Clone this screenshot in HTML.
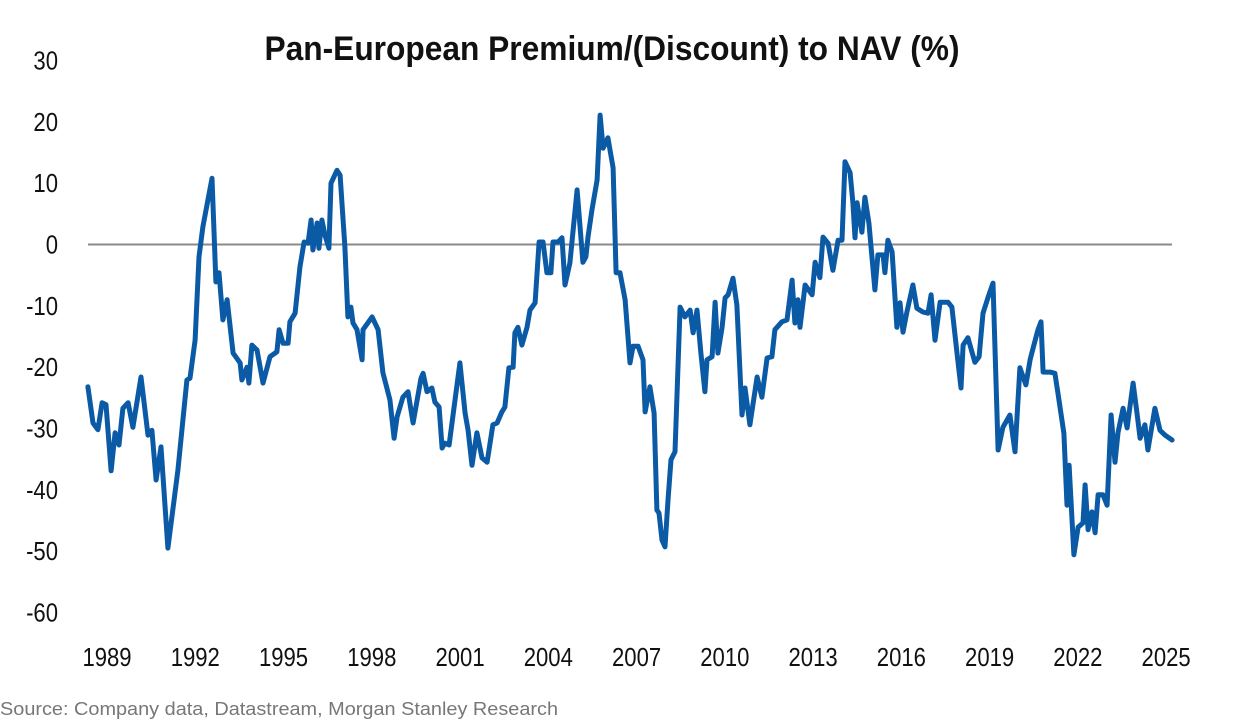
<!DOCTYPE html>
<html><head><meta charset="utf-8"><style>
html,body{margin:0;padding:0;background:#fff;}
svg{display:block;}
text{font-family:"Liberation Sans Narrow","Liberation Sans",sans-serif;}
</style></head><body>
<svg id="chart" width="1233" height="728" viewBox="0 0 1233 728" xmlns="http://www.w3.org/2000/svg">
<text x="612" y="60" text-anchor="middle" font-size="34" font-weight="bold" fill="#111" textLength="695" lengthAdjust="spacingAndGlyphs">Pan-European Premium/(Discount) to NAV (%)</text>
<g id="yaxis"></g>
<g id="xaxis"></g>
<line id="zero" stroke="#8a8a8a" stroke-width="2"/>
<path id="series" fill="none" stroke="#0b5aa6" stroke-width="5" stroke-linejoin="round" stroke-linecap="round"/>
<text x="0" y="715" font-size="18" fill="#777" textLength="558" lengthAdjust="spacingAndGlyphs" style="font-family:'Liberation Sans',sans-serif">Source: Company data, Datastream, Morgan Stanley Research</text>
</svg>
<script>
const yTicks=[30,20,10,0,-10,-20,-30,-40,-50,-60];
const xTicks=[1989,1992,1995,1998,2001,2004,2007,2010,2013,2016,2019,2022,2025];
const years=[1988.93,1989.10,1989.26,1989.40,1989.53,1989.70,1989.83,1989.96,1990.09,1990.26,1990.42,1990.69,1990.92,1991.05,1991.19,1991.35,1991.58,1991.91,1992.21,1992.31,1992.48,1992.61,1992.74,1993.04,1993.17,1993.27,1993.40,1993.54,1993.74,1993.97,1994.03,1994.20,1994.26,1994.36,1994.53,1994.73,1994.96,1995.19,1995.26,1995.39,1995.56,1995.62,1995.79,1995.95,1996.09,1996.22,1996.32,1996.38,1996.52,1996.58,1996.68,1996.78,1996.91,1996.98,1997.18,1997.28,1997.44,1997.54,1997.64,1997.71,1997.84,1998.01,1998.04,1998.34,1998.54,1998.70,1998.93,1999.07,1999.17,1999.36,1999.53,1999.70,1999.96,2000.03,2000.16,2000.32,2000.42,2000.56,2000.66,2000.75,2000.89,2001.25,2001.42,2001.52,2001.65,2001.81,2001.98,2002.15,2002.34,2002.48,2002.64,2002.74,2002.87,2003.01,2003.07,2003.17,2003.30,2003.47,2003.57,2003.74,2003.87,2004.00,2004.13,2004.26,2004.33,2004.50,2004.63,2004.73,2004.89,2005.13,2005.32,2005.42,2005.49,2005.62,2005.79,2005.89,2005.99,2006.15,2006.32,2006.42,2006.55,2006.72,2006.88,2006.98,2007.15,2007.31,2007.38,2007.54,2007.68,2007.77,2007.84,2007.94,2008.04,2008.14,2008.24,2008.37,2008.54,2008.70,2008.87,2008.97,2009.10,2009.23,2009.36,2009.43,2009.60,2009.70,2009.79,2009.93,2010.03,2010.13,2010.29,2010.42,2010.59,2010.69,2010.85,2011.09,2011.25,2011.42,2011.58,2011.68,2011.91,2012.08,2012.25,2012.34,2012.44,2012.51,2012.68,2012.91,2013.01,2013.17,2013.27,2013.44,2013.60,2013.77,2013.90,2014.00,2014.17,2014.26,2014.33,2014.40,2014.56,2014.66,2014.79,2014.99,2015.09,2015.26,2015.32,2015.42,2015.56,2015.72,2015.82,2015.92,2016.05,2016.25,2016.38,2016.58,2016.75,2016.85,2016.98,2017.15,2017.41,2017.54,2017.71,2017.84,2017.91,2018.07,2018.30,2018.44,2018.57,2018.74,2018.90,2019.07,2019.23,2019.46,2019.63,2019.79,2019.99,2020.13,2020.23,2020.39,2020.49,2020.56,2020.79,2020.95,2021.05,2021.25,2021.35,2021.42,2021.58,2021.72,2021.88,2021.95,2022.05,2022.18,2022.28,2022.38,2022.54,2022.68,2022.81,2022.94,2023.04,2023.21,2023.34,2023.54,2023.67,2023.77,2023.93,2024.03,2024.26,2024.43,2024.60,2024.83];
const values=[-23.2,-29.1,-30.2,-25.8,-26.1,-36.9,-30.7,-32.7,-26.7,-25.8,-29.8,-21.6,-31.1,-30.3,-38.4,-33.0,-49.5,-36.8,-22.1,-21.8,-15.6,-2.0,2.9,10.8,-6.1,-4.6,-12.3,-9.0,-17.7,-19.3,-22.1,-20.0,-22.6,-16.4,-17.2,-22.6,-18.3,-17.5,-13.9,-16.1,-16.1,-12.6,-11.2,-3.7,0.4,0.2,4.0,-0.9,3.5,-0.6,4.0,1.5,-0.6,10.0,12.1,11.3,-0.4,-11.8,-10.2,-12.8,-13.9,-18.8,-13.9,-11.8,-13.9,-20.9,-25.3,-31.6,-28.1,-24.9,-24.0,-29.1,-21.8,-21.0,-24.0,-23.4,-25.7,-26.5,-33.2,-32.4,-32.7,-19.3,-27.5,-30.3,-36.0,-30.7,-34.8,-35.5,-29.4,-29.1,-27.3,-26.5,-20.1,-20.0,-14.4,-13.5,-16.4,-13.5,-10.7,-9.5,0.4,0.4,-4.6,-4.6,0.4,0.4,1.1,-6.6,-3.0,8.9,-2.9,-2.0,1.2,5.6,10.5,21.1,15.7,17.4,12.5,-4.6,-4.6,-9.0,-19.3,-16.6,-16.6,-18.8,-27.3,-23.2,-27.5,-43.3,-43.8,-48.2,-49.3,-41.7,-35.1,-33.8,-10.2,-11.8,-10.7,-14.4,-10.7,-17.7,-24.0,-18.8,-18.3,-9.4,-17.7,-13.5,-8.7,-8.2,-5.5,-9.9,-27.8,-23.4,-29.4,-21.6,-24.9,-18.5,-18.3,-13.9,-12.6,-12.3,-5.8,-12.8,-9.0,-13.5,-6.6,-8.2,-2.9,-5.4,1.2,0.2,-4.2,0.7,0.7,13.5,11.7,6.8,1.1,6.8,2.0,7.7,3.5,-7.4,-1.7,-1.7,-4.6,0.7,-1.2,-13.5,-9.5,-14.3,-11.0,-6.6,-10.4,-11.0,-11.2,-8.2,-15.6,-9.4,-9.4,-10.2,-17.7,-23.4,-16.4,-15.2,-19.2,-18.3,-11.2,-8.6,-6.3,-33.5,-29.8,-27.8,-33.8,-20.1,-22.9,-18.8,-16.9,-13.9,-12.6,-20.8,-20.8,-21.0,-24.2,-30.8,-42.5,-36.0,-50.6,-46.1,-45.4,-39.2,-46.5,-43.6,-47.0,-40.8,-40.8,-42.5,-27.8,-35.5,-30.7,-26.7,-29.9,-22.6,-27.5,-31.6,-29.4,-33.5,-26.7,-30.3,-31.1,-31.9];

const NS="http://www.w3.org/2000/svg";
function xScale(yr){return 90+(yr-1989)*30.2;}
function labelX(yr){return 107+(yr-1989)*29.42;}
function yScale(v){return 244.5-v*6.133;}

const ya=document.getElementById('yaxis');
yTicks.forEach(t=>{
  const el=document.createElementNS(NS,'text');
  
  
  el.setAttribute('transform','translate(58,'+(yScale(t)+9)+') scale(0.85,1)');
  el.setAttribute('text-anchor','end');
  el.setAttribute('font-size','26');
  el.setAttribute('fill','#111');
  el.textContent=String(t);
  ya.appendChild(el);
});
const xa=document.getElementById('xaxis');
xTicks.forEach(t=>{
  const el=document.createElementNS(NS,'text');
  
  
  el.setAttribute('transform','translate('+labelX(t)+',666) scale(0.85,1)');
  el.setAttribute('text-anchor','middle');
  el.setAttribute('font-size','26');
  el.setAttribute('fill','#111');
  el.textContent=String(t);
  xa.appendChild(el);
});
const z=document.getElementById('zero');
z.setAttribute('x1',88);z.setAttribute('x2',1172);
z.setAttribute('y1',yScale(0));z.setAttribute('y2',yScale(0));
let d='';
years.forEach((yr,i)=>{d+=(i?'L':'M')+xScale(yr).toFixed(1)+','+yScale(values[i]).toFixed(1);});
document.getElementById('series').setAttribute('d',d);
</script>
</body></html>
